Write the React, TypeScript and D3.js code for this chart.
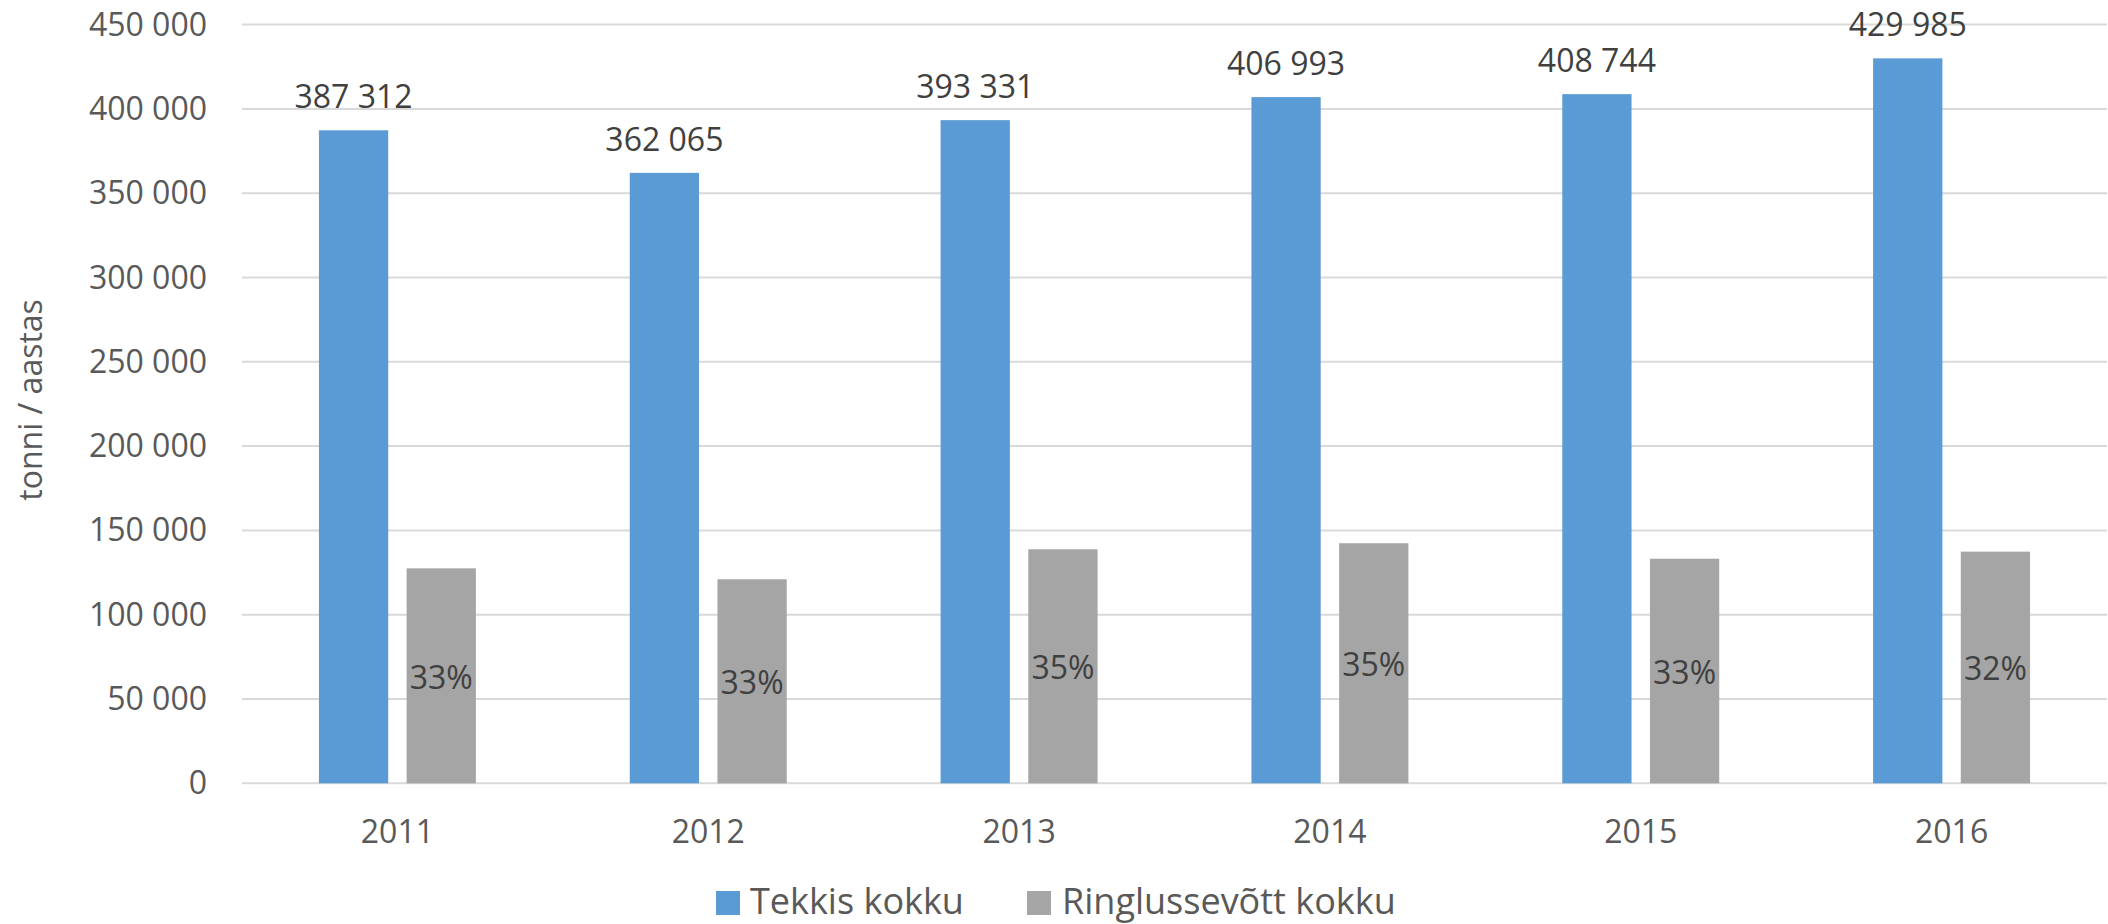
import React from "react";
import * as d3 from "d3";

const years = ["2011", "2012", "2013", "2014", "2015", "2016"];
const tekkis = [387312, 362065, 393331, 406993, 408744, 429985];
const ringlus = [127500, 121000, 138800, 142400, 133200, 137400];
const ringlusPct = ["33%", "33%", "35%", "35%", "33%", "32%"];
const yTicks = [0, 50000, 100000, 150000, 200000, 250000, 300000, 350000, 400000, 450000];
const seriesNames = ["Tekkis kokku", "Ringlussevõtt kokku"];
const yTitle = "tonni / aastas";

const W = 2108;
const H = 924;
const FONT = "'Open Sans', 'Segoe UI', sans-serif";
const BLUE = "#5b9bd5";
const GRAY = "#a5a5a5";

const locale = d3.formatLocale({ decimal: ",", thousands: " ", grouping: [3], currency: ["", ""] });
const fmt = locale.format(",d");

export default function App() {
  const left = 242;
  const right = 2107;
  const top = 24.6;
  const bottom = 783.3;

  const y = d3.scaleLinear().domain([0, 450000]).range([bottom, top]);
  const x0 = d3.scaleBand<string>().domain(years).range([left, right]).paddingInner(0.495).paddingOuter(0.2475);
  const x1 = d3.scaleBand<string>().domain(["t", "r"]).range([0, x0.bandwidth()]).paddingInner(0.21).paddingOuter(0);

  return (
    <svg width={W} height={H} style={{ position: "absolute", left: 0, top: 0, background: "#fff" }} fontFamily={FONT}>
      {yTicks.map((t) => (
        <g key={t}>
          <line x1={left} x2={right} y1={y(t)} y2={y(t)} stroke="#d9d9d9" strokeWidth={2} />
          <text x={207} y={y(t) + 11} textAnchor="end" fontSize={32} fill="#595959">
            {fmt(t)}
          </text>
        </g>
      ))}
      <text
        transform={`translate(42, ${(top + bottom) / 2 - 4}) rotate(-90)`}
        textAnchor="middle"
        fontSize={32}
        fill="#595959"
      >
        {yTitle}
      </text>
      {years.map((yr, i) => {
        const gx = x0(yr) as number;
        const bx = gx + (x1("t") as number);
        const rx = gx + (x1("r") as number);
        const bw = x1.bandwidth();
        return (
          <g key={yr}>
            <rect x={bx} y={y(tekkis[i])} width={bw} height={bottom - y(tekkis[i])} fill={BLUE} />
            <rect x={rx} y={y(ringlus[i])} width={bw} height={bottom - y(ringlus[i])} fill={GRAY} />
            <text x={bx + bw / 2} y={y(tekkis[i]) - 22} textAnchor="middle" fontSize={32} fill="#404040">
              {fmt(tekkis[i])}
            </text>
            <text
              x={rx + bw / 2}
              y={(y(ringlus[i]) + bottom) / 2 + 13}
              textAnchor="middle"
              fontSize={32}
              fill="#404040"
            >
              {ringlusPct[i]}
            </text>
            <text x={gx + x0.bandwidth() / 2} y={843} textAnchor="middle" fontSize={32} fill="#595959">
              {yr}
            </text>
          </g>
        );
      })}
      <g>
        <rect x={716} y={891} width={24} height={24} fill={BLUE} />
        <text x={750} y={914} fontSize={36} fill="#595959">
          {seriesNames[0]}
        </text>
        <rect x={1027} y={891} width={24} height={24} fill={GRAY} />
        <text x={1062} y={914} fontSize={36} fill="#595959">
          {seriesNames[1]}
        </text>
      </g>
    </svg>
  );
}
